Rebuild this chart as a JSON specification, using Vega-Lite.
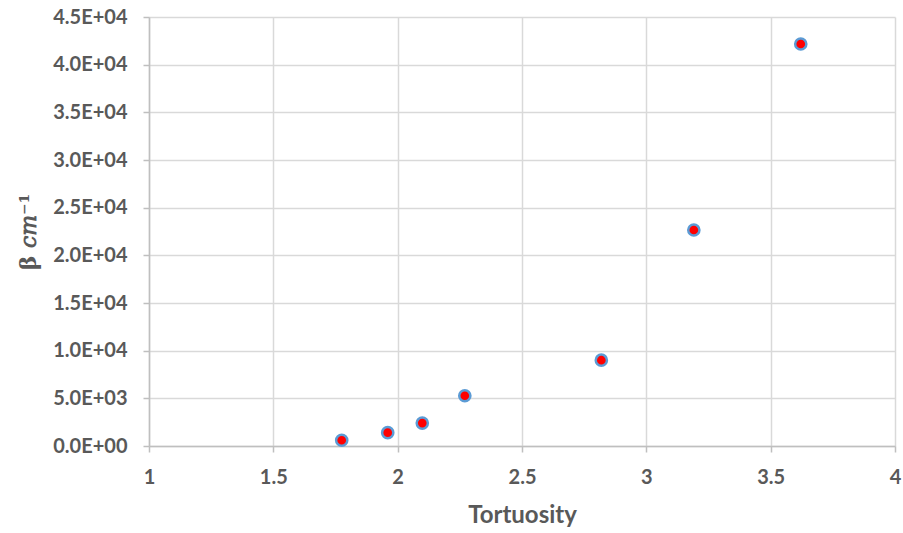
{
  "$schema": "https://vega.github.io/schema/vega-lite/v6.json",
  "width": 746,
  "height": 429,
  "autosize": "none",
  "padding": {"left": 149, "top": 17, "right": 8, "bottom": 87},
  "background": "white",
  "config": {
    "view": {"stroke": null},
    "font": "Lato",
    "axis": {
      "labelFont": "Lato",
      "labelFontWeight": "bold",
      "labelFontSize": 20,
      "labelColor": "#595959",
      "titleFont": "Lato",
      "titleFontWeight": "bold",
      "titleFontSize": 24,
      "titleColor": "#595959",
      "gridColor": "#d9d9d9",
      "gridWidth": 1.5,
      "domainColor": "#bfbfbf",
      "domainWidth": 1.5,
      "tickColor": "#bfbfbf",
      "tickWidth": 1.5,
      "tickSize": 6
    }
  },
  "data": {
    "values": [
      {"tortuosity": 1.775, "beta": 600},
      {"tortuosity": 1.96, "beta": 1400},
      {"tortuosity": 2.099, "beta": 2400},
      {"tortuosity": 2.27, "beta": 5270},
      {"tortuosity": 2.819, "beta": 9000},
      {"tortuosity": 3.191, "beta": 22660},
      {"tortuosity": 3.621, "beta": 42170}
    ]
  },
  "mark": {
    "type": "point",
    "shape": "circle",
    "filled": true,
    "fill": "#ff0000",
    "stroke": "#5b9bd5",
    "strokeWidth": 2.5,
    "size": 125,
    "opacity": 1
  },
  "encoding": {
    "x": {
      "field": "tortuosity",
      "type": "quantitative",
      "title": "Tortuosity",
      "scale": {"domain": [1, 4], "nice": false, "zero": false},
      "axis": {
        "values": [1, 1.5, 2, 2.5, 3, 3.5, 4],
        "format": "~f",
        "labelPadding": 15,
        "titlePadding": 16,
        "labelFlush": false
      }
    },
    "y": {
      "field": "beta",
      "type": "quantitative",
      "title": "β 𝑐𝑚⁻¹",
      "scale": {"domain": [0, 45000], "nice": false},
      "axis": {
        "values": [0, 5000, 10000, 15000, 20000, 25000, 30000, 35000, 40000, 45000],
        "labelExpr": "datum.value == 0 ? '0.0E+00' : format(datum.value / pow(10, floor(log(datum.value) / LN10 + 1e-9)), '.1f') + 'E+0' + floor(log(datum.value) / LN10 + 1e-9)",
        "labelPadding": 16,
        "titlePadding": 12,
        "titleFont": "DejaVu Serif",
        "titleFontWeight": "bold",
        "titleFontSize": 22,
        "titleColor": "#595959"
      }
    }
  }
}
